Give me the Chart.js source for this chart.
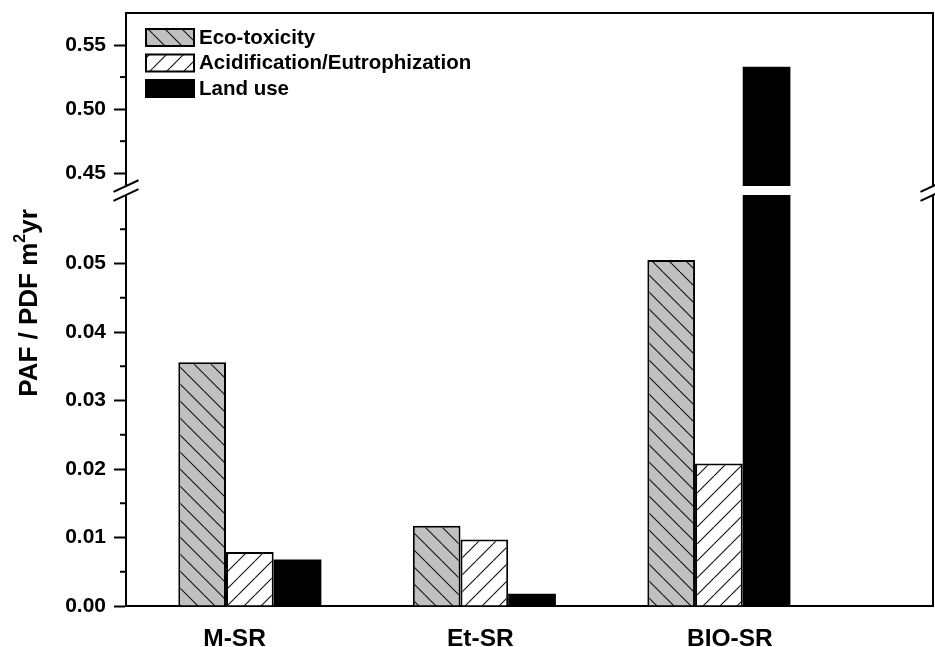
<!DOCTYPE html>
<html>
<head>
<meta charset="utf-8">
<title>PAF / PDF</title>
<script src="https://cdn.jsdelivr.net/npm/chart.js@4.4.0/dist/chart.umd.min.js"></script>
<style>
    body { margin: 0; background: #fff; }
    #wrap { width: 935px; height: 647px; }
</style>
</head>
<body>
<div id="wrap"><canvas id="impactChart"></canvas></div>
<script>
const categories = ['M-SR', 'Et-SR', 'BIO-SR'];
const ecoToxicity = [0.0356, 0.0117, 0.0505];
const acidEutro = [0.0079, 0.0097, 0.0208];
const landUse = [0.0068, 0.0018, 0.533];

// broken y axis: lower part 0..0.06, upper part picks up again at 0.44
const lowerMax = 0.06;
const breakLow = 0.44;
const upperMin = 0.433;
const upperMax = 0.575;
const lowerTicks = [0, 0.005, 0.01, 0.015, 0.02, 0.025, 0.03, 0.035, 0.04, 0.045, 0.05, 0.055];
const upperTicks = [0.45, 0.475, 0.50, 0.525, 0.55];
// where the category names sit on the x axis (the original's labels are not exactly under the groups)
const labelPos = [0.935, 1.983, 3.047];

Chart.defaults.font.family = "'Liberation Sans', Arial, sans-serif";
Chart.defaults.color = '#000';

const canvas = document.getElementById('impactChart');
const mainCtx = canvas.getContext('2d');

function hatch(bg, dir) {
    const s = 17;
    const c = document.createElement('canvas');
    c.width = s; c.height = s;
    const g = c.getContext('2d');
    g.fillStyle = bg;
    g.fillRect(0, 0, s, s);
    g.strokeStyle = '#111';
    g.lineWidth = 1.1;
    g.beginPath();
    for (let k = -s; k <= s; k += s) {
        if (dir === 'back') { g.moveTo(k, 0); g.lineTo(k + s, s); }
        else { g.moveTo(k, s); g.lineTo(k + s, 0); }
    }
    g.stroke();
    return mainCtx.createPattern(c, 'repeat');
}

const ecoFill = hatch('#c0c0c0', 'back');
const acidFill = hatch('#ffffff', 'fwd');

const lowerPoints = vals => vals.map((v, i) => ({ x: i + 1, y: Math.min(v, lowerMax) }));
const upperPoints = vals => vals.map((v, i) => ({ x: i + 1, y: [breakLow, v] })).filter(p => p.y[1] > lowerMax);

const isMajor = (v, step) => Math.abs(v / step - Math.round(v / step)) < 1e-6;

const yFixedWidth = scale => {
    scale.width = 126;
    scale.paddingTop = 0;
    scale.paddingBottom = 0;
};

const decorations = {
    id: 'decorations',
    afterDraw(chart) {
        const ctx = chart.ctx;
        const area = chart.chartArea;
        const yLow = chart.scales.y;
        const yTop = chart.scales.yTop;
        ctx.save();
        ctx.strokeStyle = '#000';
        ctx.lineWidth = 2;

        // top and right frame
        ctx.beginPath();
        ctx.moveTo(area.left, area.top);
        ctx.lineTo(area.right, area.top);
        ctx.lineTo(area.right, area.bottom);
        ctx.stroke();

        // minor ticks
        [[yLow, lowerTicks, 0.01], [yTop, upperTicks, 0.05]].forEach(([sc, list, step]) => {
            list.filter(v => !isMajor(v, step)).forEach(v => {
                const py = sc.getPixelForValue(v);
                ctx.beginPath();
                ctx.moveTo(area.left - 6, py);
                ctx.lineTo(area.left, py);
                ctx.stroke();
            });
        });

        // axis break marks
        const yU = yTop.getPixelForValue(breakLow);
        const yL = yLow.getPixelForValue(lowerMax);
        [area.left, area.right].forEach(x => {
            ctx.fillStyle = '#fff';
            ctx.beginPath();
            ctx.moveTo(x - 4, yU + 2.5);
            ctx.lineTo(x + 4, yU - 1);
            ctx.lineTo(x + 4, yL - 2.5);
            ctx.lineTo(x - 4, yL + 1);
            ctx.closePath();
            ctx.fill();
            [yU, yL].forEach(yc => {
                ctx.beginPath();
                ctx.moveTo(x - 12.5, yc + 5.8);
                ctx.lineTo(x + 12.5, yc - 5.8);
                ctx.stroke();
            });
        });

        // legend
        const rows = chart.data.datasets.slice(0, 3);
        ctx.font = "bold 20.5px 'Liberation Sans', Arial, sans-serif";
        ctx.textBaseline = 'middle';
        ctx.textAlign = 'left';
        rows.forEach((ds, i) => {
            const top = area.top + 16 + i * 25.5;
            ctx.fillStyle = ds.backgroundColor;
            ctx.fillRect(area.left + 20, top, 48, 17);
            ctx.lineWidth = 2;
            ctx.strokeStyle = '#000';
            ctx.strokeRect(area.left + 20, top, 48, 17);
            ctx.fillStyle = '#000';
            ctx.fillText(ds.label, area.left + 73, top + 9);
        });

        // y axis title with raised "2"
        ctx.translate(28, 303);
        ctx.rotate(-Math.PI / 2);
        const bigFont = "bold 26px 'Liberation Sans', Arial, sans-serif";
        const supFont = "bold 16px 'Liberation Sans', Arial, sans-serif";
        const partA = 'PAF / PDF m';
        const partB = 'yr';
        ctx.font = bigFont;
        const wA = ctx.measureText(partA).width;
        const wB = ctx.measureText(partB).width;
        ctx.font = supFont;
        const wS = ctx.measureText('2').width;
        let x0 = -(wA + wS + wB) / 2;
        ctx.textAlign = 'left';
        ctx.textBaseline = 'alphabetic';
        ctx.font = bigFont;
        ctx.fillText(partA, x0, 9);
        ctx.font = supFont;
        ctx.fillText('2', x0 + wA, -3);
        ctx.font = bigFont;
        ctx.fillText(partB, x0 + wA + wS, 9);
        ctx.restore();
    }
};

const tickFont = { size: 21, weight: 'bold' };

new Chart(canvas, {
    type: 'bar',
    data: {
        datasets: [
            {
                label: 'Eco-toxicity',
                data: lowerPoints(ecoToxicity),
                backgroundColor: ecoFill,
                borderColor: '#000',
                borderWidth: 2,
                stack: 'eco',
                yAxisID: 'y'
            },
            {
                label: 'Acidification/Eutrophization',
                data: lowerPoints(acidEutro),
                backgroundColor: acidFill,
                borderColor: '#000',
                borderWidth: 2,
                stack: 'acid',
                yAxisID: 'y'
            },
            {
                label: 'Land use',
                data: lowerPoints(landUse),
                backgroundColor: '#000',
                borderColor: '#000',
                borderWidth: 0,
                stack: 'land',
                yAxisID: 'y'
            },
            {
                label: 'Land use (above break)',
                data: upperPoints(landUse),
                backgroundColor: '#000',
                borderWidth: 0,
                stack: 'land',
                yAxisID: 'yTop'
            }
        ]
    },
    options: {
        responsive: true,
        maintainAspectRatio: false,
        animation: false,
        layout: { padding: { top: 13, right: 2, bottom: 0, left: 0 } },
        categoryPercentage: 0.61,
        barPercentage: 1,
        plugins: {
            legend: { display: false },
            tooltip: { enabled: false }
        },
        scales: {
            x: {
                type: 'linear',
                offset: false,
                bounds: 'data',
                min: 0.472,
                max: 3.913,
                afterBuildTicks: scale => { scale.ticks = labelPos.map(v => ({ value: v })); },
                afterFit: scale => { scale.height = 41; scale.paddingLeft = 0; scale.paddingRight = 0; },
                grid: { display: false, drawTicks: false, offset: false },
                border: { display: true, color: '#000', width: 2 },
                ticks: {
                    autoSkip: false,
                    maxRotation: 0,
                    padding: 19,
                    font: { size: 24.5, weight: 'bold' },
                    callback: (v, i) => categories[i]
                }
            },
            y: {
                type: 'linear',
                position: 'left',
                stack: 'broken',
                stackWeight: 411,
                bounds: 'data',
                min: 0,
                max: lowerMax,
                afterBuildTicks: scale => { scale.ticks = lowerTicks.map(v => ({ value: v })); },
                afterFit: yFixedWidth,
                grid: {
                    drawOnChartArea: false,
                    tickLength: 12,
                    tickWidth: 2,
                    tickColor: c => isMajor(c.tick.value, 0.01) ? '#000' : 'rgba(0,0,0,0)'
                },
                border: { display: true, color: '#000', width: 2 },
                ticks: {
                    autoSkip: false,
                    padding: 8,
                    font: tickFont,
                    callback: v => isMajor(v, 0.01) ? v.toFixed(2) : ''
                }
            },
            yTop: {
                type: 'linear',
                position: 'left',
                stack: 'broken',
                stackWeight: 182,
                bounds: 'data',
                min: upperMin,
                max: upperMax,
                afterBuildTicks: scale => { scale.ticks = upperTicks.map(v => ({ value: v })); },
                afterFit: yFixedWidth,
                grid: {
                    drawOnChartArea: false,
                    tickLength: 12,
                    tickWidth: 2,
                    tickColor: c => isMajor(c.tick.value, 0.05) ? '#000' : 'rgba(0,0,0,0)'
                },
                border: { display: true, color: '#000', width: 2 },
                ticks: {
                    autoSkip: false,
                    padding: 8,
                    font: tickFont,
                    callback: v => isMajor(v, 0.05) ? v.toFixed(2) : ''
                }
            }
        }
    },
    plugins: [decorations]
});
</script>
</body>
</html>
